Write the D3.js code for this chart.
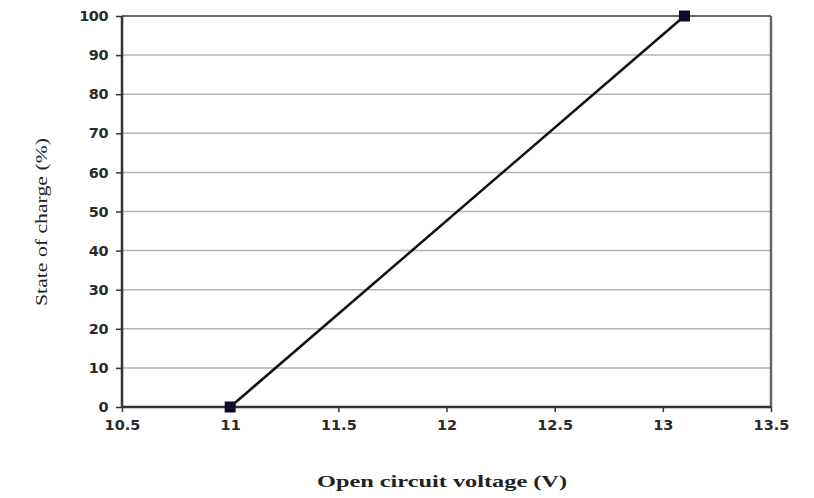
<!DOCTYPE html>
<html><head><meta charset="utf-8">
<script src="https://cdn.jsdelivr.net/npm/d3@7"></script>
<style>body{margin:0;background:#fff}</style>
</head><body>
<svg id="c" width="814" height="498"></svg>
<script>
const voltage = [11.0, 13.1];
const soc = [0, 100];
const xTicks = [10.5, 11, 11.5, 12, 12.5, 13, 13.5];
const yTicks = [0, 10, 20, 30, 40, 50, 60, 70, 80, 90, 100];
const xTitle = "Open circuit voltage (V)";
const yTitle = "State of charge (%)";

const svg = d3.select("#c");
const L = 122, R = 771, T = 16, B = 407;
const x = d3.scaleLinear().domain([10.5, 13.5]).range([L, R]);
const y = d3.scaleLinear().domain([0, 100]).range([B, T]);

// gridlines
svg.append("g").selectAll("line").data(yTicks.filter(d => d > 0 && d < 100)).join("line")
  .attr("x1", L).attr("x2", R).attr("y1", d => y(d)).attr("y2", d => y(d))
  .attr("stroke", "#b4b4b4").attr("stroke-width", 1.5);
// top & right frame
svg.append("line").attr("x1", L).attr("x2", R).attr("y1", y(100)).attr("y2", y(100)).attr("stroke", "#666").attr("stroke-width", 2);
svg.append("line").attr("x1", R).attr("x2", R).attr("y1", T).attr("y2", B).attr("stroke", "#666").attr("stroke-width", 2.5);

const fontTick = "bold 14.5px 'DejaVu Sans', Verdana, sans-serif";
const xAxis = svg.append("g").attr("transform", `translate(0,${B})`)
  .call(d3.axisBottom(x).tickValues(xTicks).tickSize(5).tickPadding(8).tickFormat(d3.format("")));
const yAxis = svg.append("g").attr("transform", `translate(${L},0)`)
  .call(d3.axisLeft(y).tickValues(yTicks).tickSize(6).tickPadding(8));
[xAxis, yAxis].forEach(a => {
  a.select(".domain").attr("stroke", "#333").attr("stroke-width", 2.5);
  a.selectAll(".tick line").attr("stroke", "#333").attr("stroke-width", 1.5);
  a.selectAll("text").style("font", fontTick).attr("fill", "#2a2a2a");
});
yAxis.selectAll("text").style("letter-spacing", "-0.5px");
xAxis.selectAll(".domain").attr("d", `M${L},0H${R}`);
yAxis.selectAll(".domain").attr("d", `M0,${T}V${B}`);

// line + markers
const pts = voltage.map((v, i) => [v, soc[i]]);
svg.append("path").datum(pts)
  .attr("d", d3.line().x(d => x(d[0])).y(d => y(d[1])))
  .attr("fill", "none").attr("stroke", "#111").attr("stroke-width", 2.5);
svg.append("g").selectAll("rect").data(pts).join("rect")
  .attr("x", d => x(d[0]) - 5.5).attr("y", d => y(d[1]) - 5.5)
  .attr("width", 11).attr("height", 11).attr("fill", "#0d0d2a");

svg.append("text").attr("x", 442).attr("y", 487).attr("text-anchor", "middle")
  .attr("textLength", 250).attr("lengthAdjust", "spacingAndGlyphs")
  .style("font", "bold 16px 'Liberation Serif', 'DejaVu Serif', serif").attr("fill", "#222").text(xTitle);
svg.append("text").attr("transform", `translate(47,222) rotate(-90)`).attr("text-anchor", "middle")
  .attr("textLength", 168).attr("lengthAdjust", "spacingAndGlyphs")
  .style("font", "16px 'Liberation Serif', 'DejaVu Serif', serif").attr("fill", "#222").text(yTitle);
</script>
</body></html>
